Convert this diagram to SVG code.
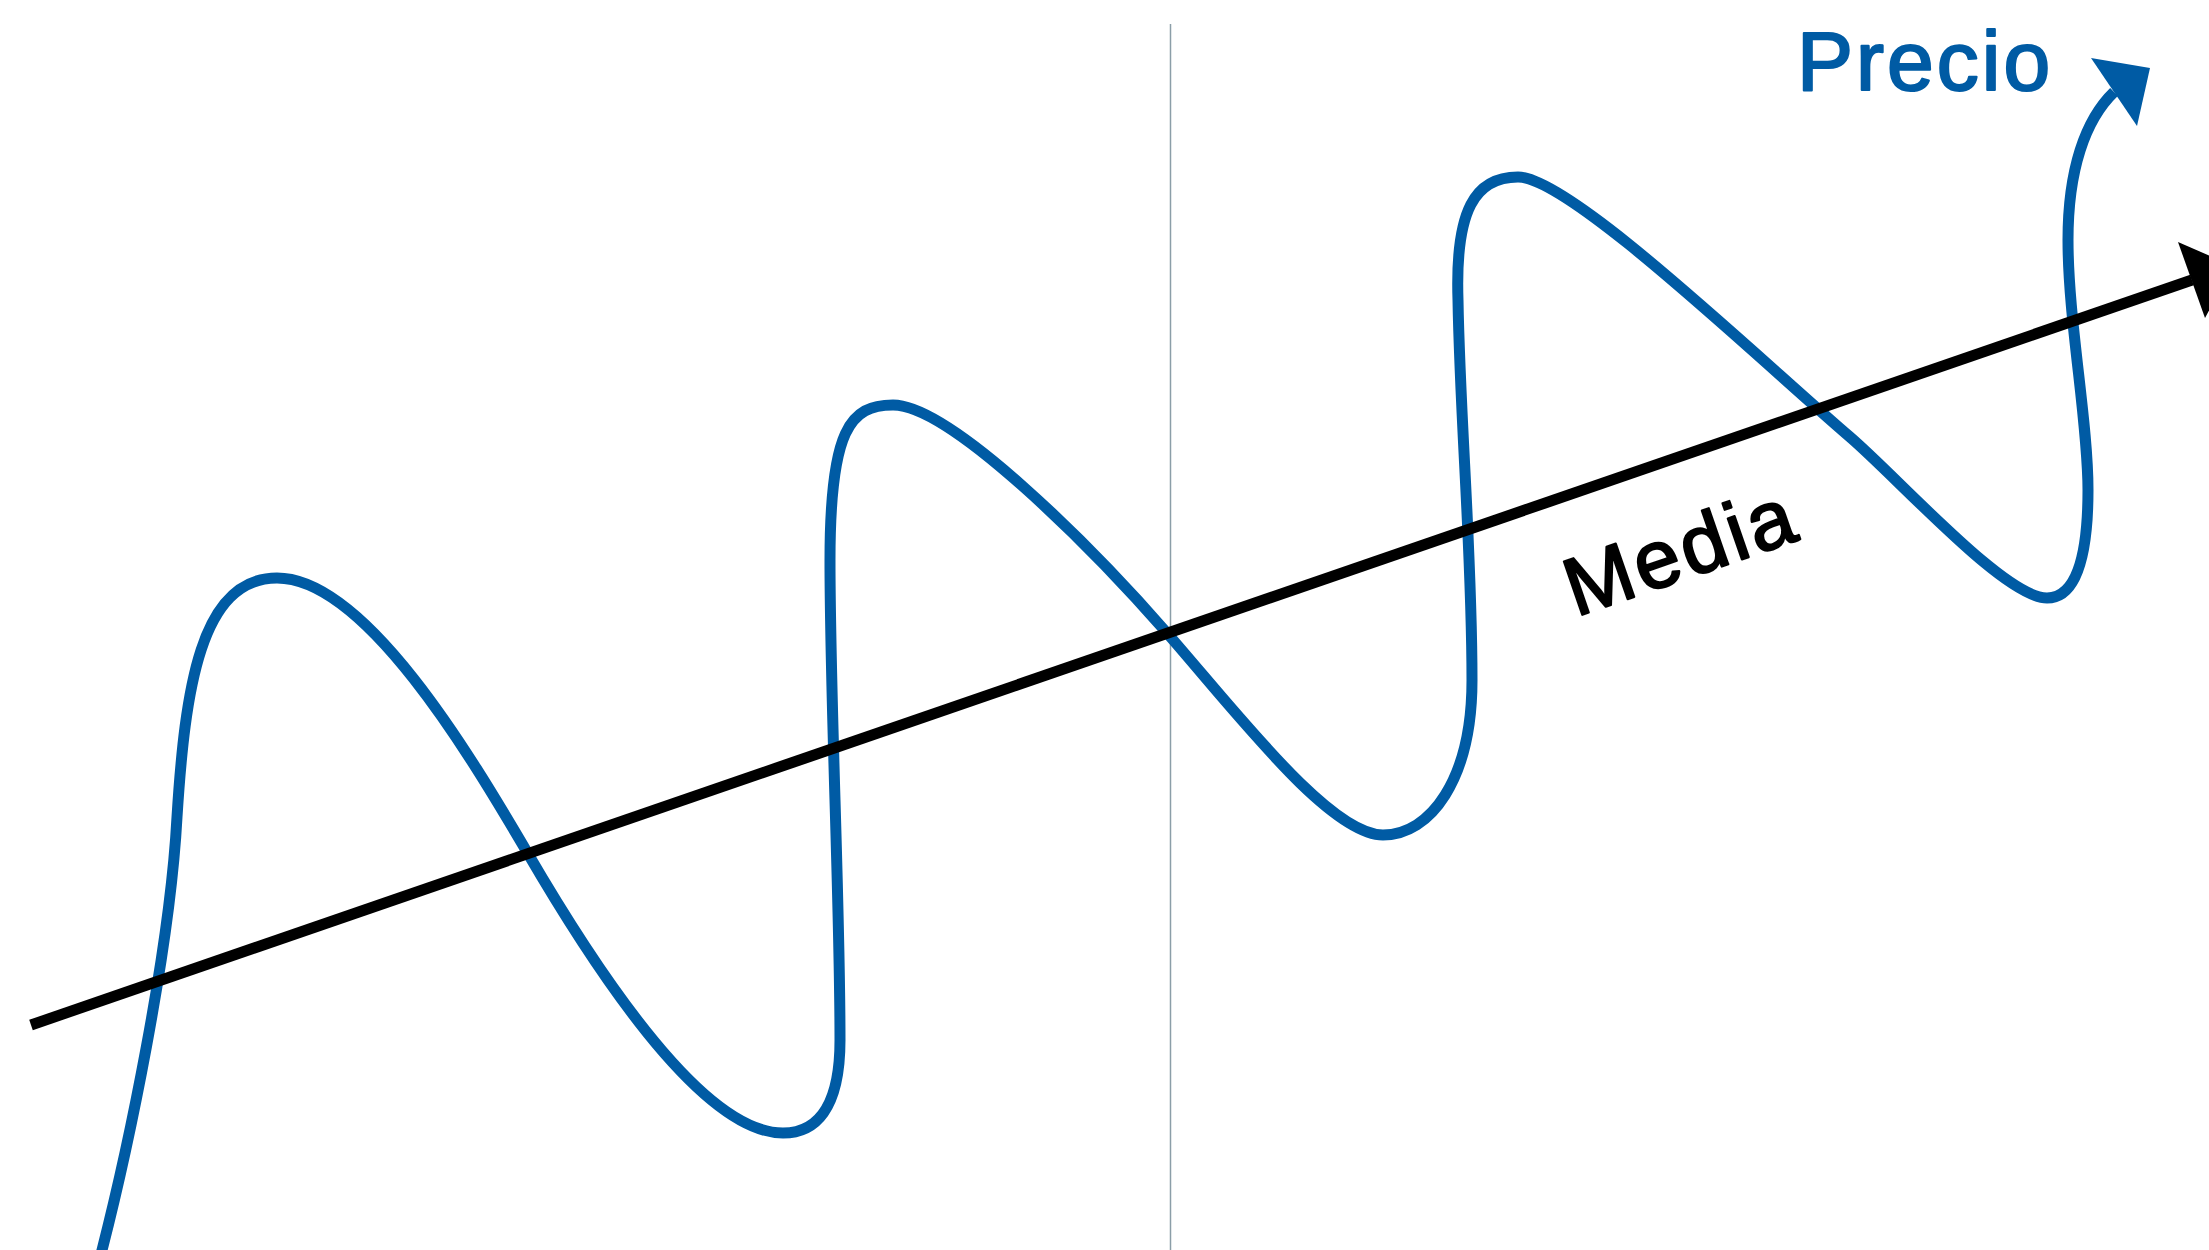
<svg xmlns="http://www.w3.org/2000/svg" width="2209" height="1250" viewBox="0 0 2209 1250">
<style>
.blue{fill:none;stroke:#005ba4;stroke-width:11;stroke-linejoin:round}
.mean{fill:none;stroke:#000;stroke-width:11}
.guide{stroke:#8b9ea8;stroke-width:1.5}
.lbl{font-family:"Liberation Sans",Arial,sans-serif;stroke-width:2.2;stroke-linejoin:round}
</style>
<rect width="2209" height="1250" fill="#fff"/>
<g id="guide">
<line class="guide" x1="1170.5" y1="24" x2="1170.5" y2="1250"/>
</g>
<g id="connectors">
<g id="price-curve">
<path class="blue" d="M100 1258 C128 1150 170 950 177 817 C185 690 200 578 277 578 C365 578 470 755 527 852 C590 960 700 1133 783 1133 C815 1133 840 1110 840 1040 C840 900 830 700 830 560 C830 430 850 405 893 405 C950 405 1090 545 1167 633 C1237 713 1330 835 1383 835 C1430 835 1472 780 1472 680 C1472 550 1460 420 1458 300 C1455 210 1475 177 1518 177 C1570 177 1760 360 1850 437 C1900 480 2005 598 2047 598 C2075 598 2088 560 2088 490 C2088 420 2068 320 2068 240 C2068 170 2085 120 2114 92"/>
<polygon points="2091,58 2150,68 2137,126" fill="#005ba4"/>
</g>
<g id="mean-line">
<line class="mean" x1="31" y1="1025" x2="2192" y2="280"/>
<polygon points="2178,242 2233,266 2205,318" fill="#000"/>
</g>
</g>
<g id="label-precio">
<text class="lbl" x="1797" y="90" font-size="84" letter-spacing="3" fill="#005ba4" stroke="#005ba4">Precio</text>
</g>
<g id="label-media">
<text class="lbl" transform="translate(1576,617) rotate(-19.1)" font-size="82" letter-spacing="3.5" fill="#000" stroke="#000">Media</text>
</g>
</svg>
